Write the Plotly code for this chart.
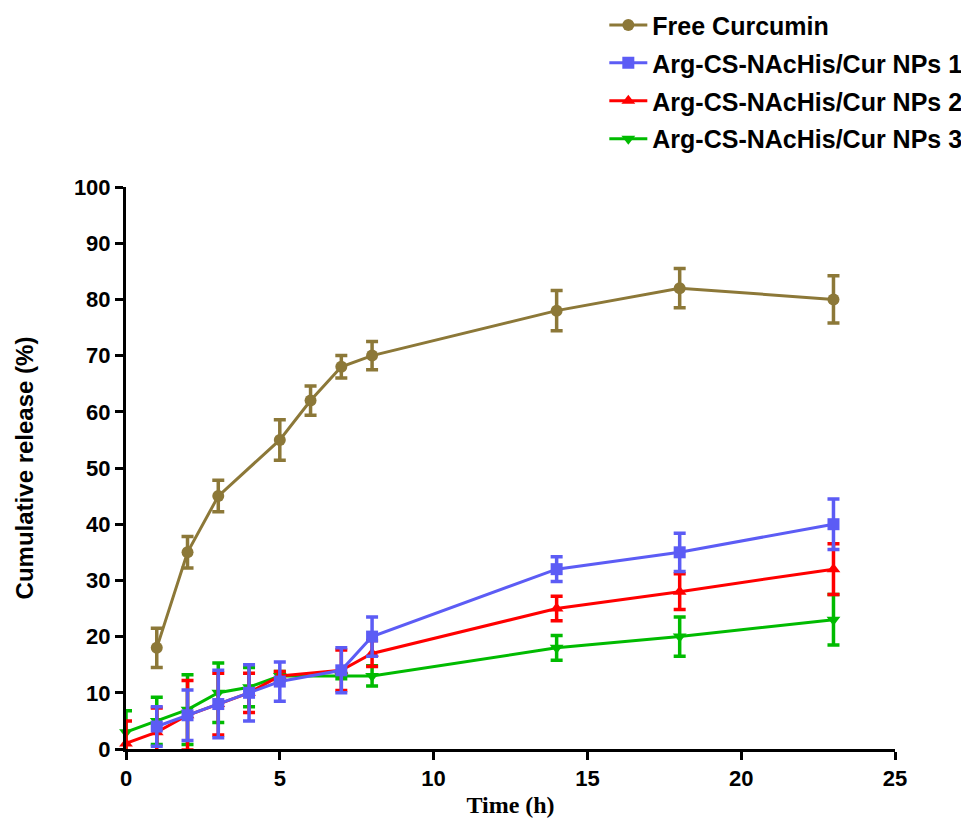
import plotly.graph_objects as go

# Data
names = ["Free Curcumin", "Arg-CS-NAcHis/Cur NPs 1", "Arg-CS-NAcHis/Cur NPs 2", "Arg-CS-NAcHis/Cur NPs 3"]

free_x = [1, 2, 3, 5, 6, 7, 8, 14, 18, 23]
free_y = [18, 35, 45, 55, 62, 68, 70, 78, 82, 80]
free_err = [3.5, 2.8, 2.8, 3.6, 2.6, 2.0, 2.5, 3.6, 3.5, 4.2]

np1_x = [1, 2, 3, 4, 5, 7, 8, 14, 18, 23]
np1_y = [4, 6, 8, 10, 12, 14, 20, 32, 35, 40]
np1_err = [3.5, 4.5, 6.0, 5.0, 3.5, 4.0, 3.5, 2.2, 3.4, 4.5]

np2_x = [0, 1, 2, 3, 4, 5, 7, 8, 14, 18, 23]
np2_y = [1, 3, 6, 8, 10, 13, 14, 17, 25, 28, 32]
np2_err = [4.0, 4.3, 6.2, 5.5, 3.5, 0.8, 3.6, 2.3, 2.2, 3.2, 4.5]

np3_x = [0, 1, 2, 3, 4, 5, 7, 8, 14, 18, 23]
np3_y = [3, 5, 7, 10, 11, 13, 13, 13, 18, 20, 23]
np3_err = [3.8, 4.2, 6.2, 5.3, 3.5, 0.8, 0.5, 1.8, 2.2, 3.5, 4.5]

x_ticks = [0, 5, 10, 15, 20, 25]
y_ticks = [0, 10, 20, 30, 40, 50, 60, 70, 80, 90, 100]

colors = ["#8C7838", "#5C5CF5", "#FF0000", "#00BB00"]
symbols = ["circle", "square", "triangle-up", "triangle-down"]
legend_ids = ["legend", "legend2", "legend3", "legend4"]
legend_y = [1.288, 1.2205, 1.153, 1.0855]

series = [(free_x, free_y, free_err), (np1_x, np1_y, np1_err),
          (np2_x, np2_y, np2_err), (np3_x, np3_y, np3_err)]

fig = go.Figure()
order = [3, 2, 1, 0]
for i in order:
    xs, ys, es = series[i]
    fig.add_trace(go.Scatter(
        x=xs, y=ys, name=names[i], mode="lines+markers",
        line=dict(color=colors[i], width=3),
        marker=dict(symbol=symbols[i], size=12, color=colors[i]),
        error_y=dict(type="data", array=es, visible=True, color=colors[i],
                     thickness=3.5, width=6),
        cliponaxis=False, legend=legend_ids[i],
    ))

legend_font = dict(family="Liberation Sans, Arial", size=25, color="black", weight="bold")
legends = {}
for i, lid in enumerate(legend_ids):
    legends[lid] = dict(x=0.622, y=legend_y[i], xanchor="left", yanchor="middle",
                        font=legend_font, bgcolor="rgba(0,0,0,0)", itemwidth=38)

axis_font = dict(family="Liberation Sans, Arial", size=22, color="black", weight="bold")

fig.update_layout(
    width=961, height=813,
    paper_bgcolor="white", plot_bgcolor="white",
    margin=dict(l=118, r=74, t=179, b=72, autoexpand=False),
    showlegend=True,
    xaxis=dict(range=[0, 25], tickvals=x_ticks, ticks="outside", ticklen=8, tickwidth=3,
               tickcolor="black", showline=True, linecolor="black", linewidth=3,
               showgrid=False, zeroline=False, tickfont=axis_font, automargin=False,
               title=dict(text="Time (h)", standoff=6,
                          font=dict(family="Liberation Serif, Times New Roman", size=24,
                                    color="black", weight="bold"))),
    yaxis=dict(range=[0, 100], tickvals=y_ticks, ticks="outside", ticklen=8, tickwidth=3,
               tickcolor="black", showline=True, linecolor="black", linewidth=3,
               showgrid=False, zeroline=False, tickfont=axis_font, automargin=False,
               title=dict(text="Cumulative release (%)", standoff=34,
                          font=dict(family="Liberation Sans, Arial", size=24,
                                    color="black", weight="bold"))),
    **legends,
)

fig.write_html("out.html")
